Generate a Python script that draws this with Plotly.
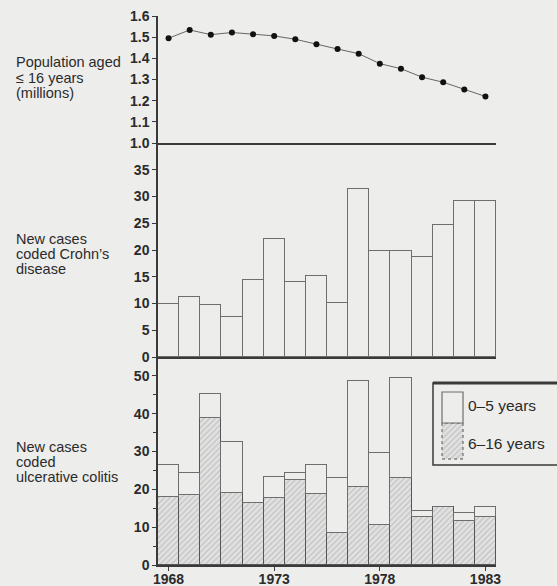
import plotly.graph_objects as go

years = list(range(1968, 1984))
population = [1.495, 1.534, 1.512, 1.522, 1.514, 1.506, 1.49, 1.466, 1.444, 1.422,
              1.375, 1.351, 1.311, 1.287, 1.253, 1.22]
crohn = [10, 11.3, 9.8, 7.5, 14.4, 22, 14, 15.1, 10.1, 31.4, 19.9, 19.9, 18.7, 24.7, 29.1, 29.1]
uc_6_16 = [18, 18.5, 39, 19, 16.5, 17.8, 22.5, 18.9, 8.5, 20.5, 10.7, 23.1, 12.7, 15.4, 11.7, 12.7]
uc_0_5 = [8.5, 5.8, 6.1, 13.5, 0, 5.5, 1.8, 7.5, 14.6, 28.1, 18.9, 26.3, 1.7, 0, 2.1, 2.7]
year_ticks = [1968, 1973, 1978, 1983]
pop_ticks = [1.0, 1.1, 1.2, 1.3, 1.4, 1.5, 1.6]
crohn_ticks = [0, 5, 10, 15, 20, 25, 30, 35]
uc_ticks = [0, 10, 20, 30, 40, 50]

BG = '#ededeb'
INK = '#2b2b2b'
AX = '#3a3a3a'
FONT = 'Liberation Sans, Arial, sans-serif'

W, H = 557, 586
L, R, T, B = 158, 61, 16, 21
PW, PH = W - L - R, H - T - B


def px(x):
    return (x - L) / PW


def py(y):
    return (H - B - y) / PH


d_uc = [0, py(357)]
d_cr = [py(357), py(143)]
d_pop = [py(143), 1]

fig = go.Figure()

# Population line
fig.add_trace(go.Scatter(x=years, y=population, mode='lines+markers',
                         line=dict(color='#666666', width=1),
                         marker=dict(color='#111111', size=6),
                         xaxis='x3', yaxis='y3', showlegend=False))

# Crohn's bars
fig.add_trace(go.Bar(x=years, y=crohn, marker=dict(color=BG, line=dict(color='#6e6e6e', width=1.3)),
                     xaxis='x2', yaxis='y2', showlegend=False))

# UC stacked bars
fig.add_trace(go.Bar(x=years, y=uc_6_16,
                     marker=dict(color='#dcdcdc', line=dict(color='#555555', width=1.1),
                                 pattern=dict(shape='/', bgcolor='#e2e2e2', fgcolor='#a0a0a0',
                                              size=4, solidity=0.3)),
                     xaxis='x', yaxis='y', showlegend=False))
fig.add_trace(go.Bar(x=years, y=uc_0_5, marker=dict(color=BG, line=dict(color='#6e6e6e', width=1.3)),
                     xaxis='x', yaxis='y', showlegend=False))

# Legend swatch (hatched part) on a hidden full-plot axis pair
sx0, sx1 = px(442), px(463)
sy_mid, sy_bot, sy_top = py(423), py(459), py(392)
fig.add_trace(go.Scatter(x=[sx0, sx1, sx1, sx0, sx0], y=[sy_bot, sy_bot, sy_mid, sy_mid, sy_bot],
                         mode='lines', fill='toself', fillcolor='#e2e2e2',
                         fillpattern=dict(shape='/', bgcolor='#e2e2e2', fgcolor='#a0a0a0', size=4, solidity=0.3),
                         line=dict(color='#555555', width=1, dash='dot'),
                         xaxis='x4', yaxis='y4', showlegend=False, hoverinfo='skip'))

xcommon = dict(range=[1967.5, 1983.5], showline=True, linecolor=AX, linewidth=2,
               showgrid=False, zeroline=False, fixedrange=True, automargin=False)
tickfont = dict(family=FONT, size=14, color=INK, weight='bold')
ycommon = dict(showline=True, linecolor=AX, linewidth=1.5, showgrid=False, zeroline=False,
               ticks='outside', ticklen=4, tickcolor=AX, tickwidth=1, tickfont=tickfont,
               fixedrange=True, automargin=False)

fig.update_layout(
    width=W, height=H,
    margin=dict(l=L, r=R, t=T, b=B, autoexpand=False),
    paper_bgcolor=BG, plot_bgcolor='rgba(0,0,0,0)',
    barmode='stack', bargap=0,
    font=dict(family=FONT, color=INK),
    xaxis=dict(**xcommon, anchor='y', tickvals=year_ticks, ticks='outside', ticklen=4,
               tickcolor=AX, tickfont=tickfont, ticklabelstandoff=-4),
    xaxis2=dict(**xcommon, anchor='y2', matches='x', showticklabels=False),
    xaxis3=dict(**xcommon, anchor='y3', matches='x', showticklabels=False),
    yaxis=dict(**ycommon, domain=d_uc, range=[0, 55], tickvals=uc_ticks,
               minor=dict(tickvals=[5, 15, 25, 35, 45], ticks='outside', ticklen=3, tickcolor=AX)),
    yaxis2=dict(**ycommon, domain=d_cr, range=[0, 40], tickvals=crohn_ticks),
    yaxis3=dict(**ycommon, domain=d_pop, range=[1.0, 1.6], tickvals=pop_ticks, tickformat='.1f'),
    xaxis4=dict(domain=[0, 1], range=[0, 1], anchor='y4', visible=False, fixedrange=True, automargin=False),
    yaxis4=dict(domain=[0, 1], range=[0, 1], anchor='x4', visible=False, fixedrange=True, automargin=False),
)

shapes = []
# legend box
shapes.append(dict(type='rect', xref='paper', yref='paper', x0=px(433), x1=px(570),
                   y0=py(465), y1=py(383), line=dict(color=AX, width=1.5), fillcolor=BG, layer='below'))
shapes.append(dict(type='line', xref='paper', yref='paper', x0=px(433), x1=px(570),
                   y0=py(383), y1=py(383), line=dict(color=AX, width=3)))
# legend white swatch
shapes.append(dict(type='rect', xref='paper', yref='paper', x0=sx0, x1=sx1,
                   y0=sy_mid, y1=sy_top, line=dict(color='#6e6e6e', width=1.2), fillcolor=BG))
fig.update_layout(shapes=shapes)

ann = []


def label(text, x, y, size=14.5):
    ann.append(dict(text=text, x=px(x), y=py(y), xref='paper', yref='paper', xanchor='left',
                    yanchor='middle', showarrow=False, font=dict(family=FONT, size=size, color=INK)))


for t, yy in [('Population aged', 62), ('\u2264 16 years', 78), ('(millions)', 93)]:
    label(t, 14, yy)
for t, yy in [('New cases', 239), ('coded Crohn\u2019s', 254), ('disease', 269)]:
    label(t, 14, yy)
for t, yy in [('New cases', 447), ('coded', 462), ('ulcerative colitis', 477)]:
    label(t, 14, yy)
label('0\u20135 years', 466, 405, 15.5)
label('6\u201316 years', 466, 443, 15.5)
fig.update_layout(annotations=ann)

fig.write_html('out.html', config=dict(displayModeBar=False),
               post_script="document.body.style.margin='0';document.body.style.background='%s';" % BG)
